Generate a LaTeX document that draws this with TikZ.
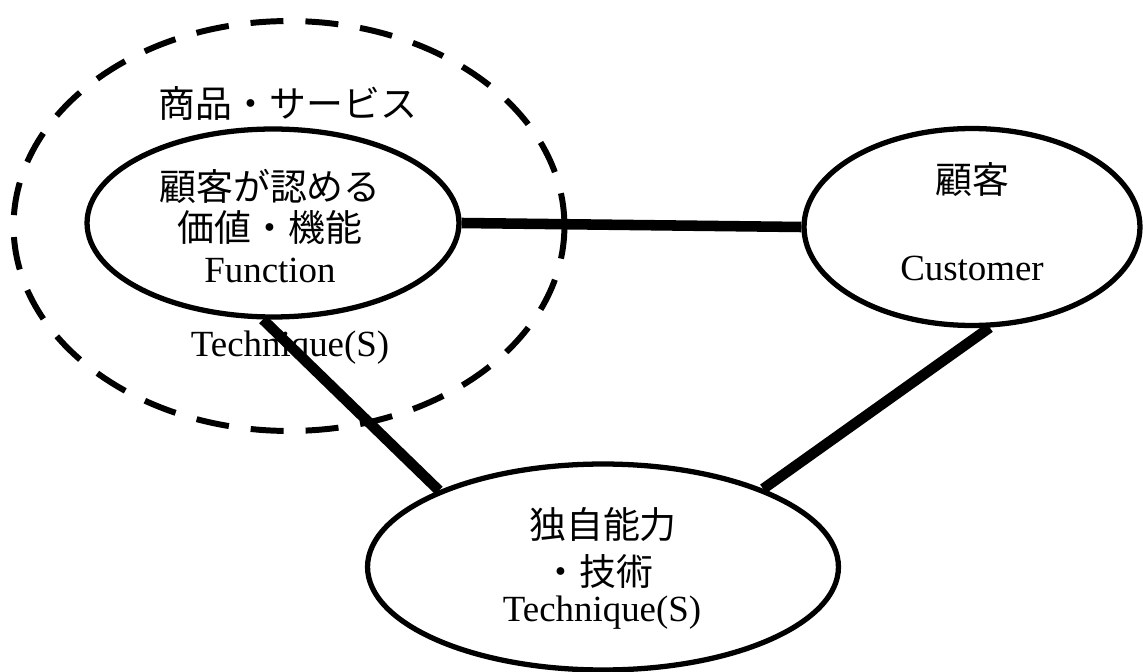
\documentclass[tikz,border=0pt]{standalone}
\usepackage{fontspec}
\setmainfont{Liberation Serif}
\newfontfamily\jpfont{Noto Sans CJK JP}
\usetikzlibrary{shapes.geometric}
\tikzset{
    bubble/.style={ellipse, draw, line width=3pt, fill=white, inner sep=0pt},
    link/.style={line width=6pt},
    txt/.style={font=\fontsize{21}{23.4}\selectfont, align=center, inner sep=0pt},
}

\begin{document}
\begin{tikzpicture}[x=0.02cm, y=-0.02cm]
    \useasboundingbox (0,0) rectangle (1143,672);
    % dashed region round the offer
    \node [ellipse, draw, line width=3.4pt, dash pattern=on 0.66cm off 0.44cm,
        minimum width=11.02cm, minimum height=8.2cm] (offer) at (289,226) {};
    \node [txt] (offerlabel) at (288,103) {\jpfont 商品・サービス};
    \node [txt] (techlabel) at (290,348) {Technique(S)};
    % the three bubbles
    \node [bubble, minimum width=7.44cm, minimum height=3.76cm] (func) at (273,223) {};
    \node [bubble, minimum width=6.72cm, minimum height=3.94cm] (cust) at (972,227) {};
    \node [bubble, minimum width=9.42cm, minimum height=4.12cm] (tech) at (603,567) {};
    % links
    \draw [link] (func.east) -- (cust.west);
    \draw [link] (func.-96) -- (tech.155);
    \draw [link] (cust.-80) -- (tech.26);
    % texts
    \node [txt] (functext) at (270,226) {{\jpfont 顧客が認める}\\{\jpfont 価値・機能}\\Function};
    \node [txt] (custjp) at (972,180) {\jpfont 顧客};
    \node [txt] (custen) at (972,268) {Customer};
    \node [txt] (techjp) at (603,525) {\jpfont 独自能力};
    \node [txt] (techjp2) at (598,571) {\jpfont ・技術};
    \node [txt] (techen) at (602,613) {Technique(S)};
\end{tikzpicture}
\end{document}
